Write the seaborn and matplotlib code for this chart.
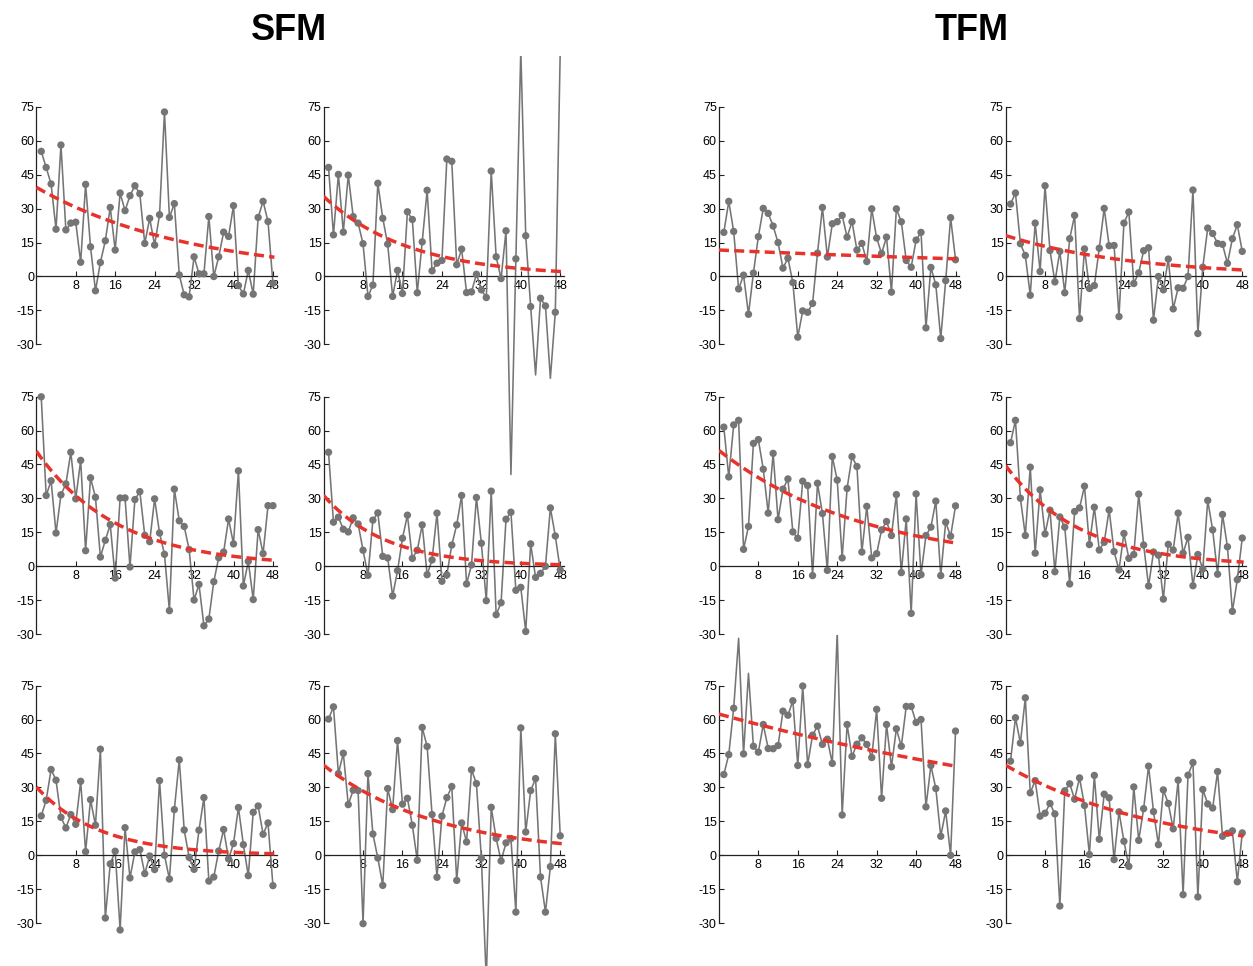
import numpy as np
import pandas as pd
import matplotlib
matplotlib.use("Agg")
import matplotlib.pyplot as plt
import seaborn as sns

plt.rcParams['font.family'] = ['Liberation Sans', 'DejaVu Sans']
plt.rcParams['axes.unicode_minus'] = False

# ---------------- data ----------------
x_values = list(range(1, 49))
y_ticks = [-30, -15, 0, 15, 30, 45, 60, 75]
x_ticks = [8, 16, 24, 32, 40, 48]
group_titles = ["SFM", "TFM"]

sfm_r1_c1 = [55.3, 48.2, 40.9, 20.9, 58.1, 20.6, 23.6, 24.0, 6.3, 40.7, 13.1, -6.3, 6.2, 15.8, 30.5, 11.7,
             36.9, 29.1, 35.7, 40.1, 36.6, 14.6, 25.7, 13.9, 27.3, 72.7, 26.1, 32.2, 0.7, -8.1, -9.0, 8.7,
             1.2, 1.2, 26.5, 0.0, 8.7, 19.6, 17.7, 31.3, -4.0, -7.7, 2.7, -7.8, 26.1, 33.2, 24.3, -3.0]
sfm_r1_c2 = [48.2, 18.4, 45.1, 19.6, 44.8, 26.5, 23.6, 14.5, -8.8, -3.8, 41.2, 25.7, 14.3, -8.8, 2.7, -7.5,
             28.6, 25.2, -7.2, 15.3, 38.1, 2.5, 5.9, 7.1, 51.9, 50.9, 5.2, 12.1, -7.1, -6.8, 1.0, -5.9,
             -9.3, 46.6, 8.7, -0.9, 20.2, -87.5, 7.8, 100.0, 18.0, -13.3, -43.5, -9.6, -13.0, -45.0, -15.8, 100.0]
tfm_r1_c1 = [19.5, 33.2, 19.9, -5.5, 0.6, -16.7, 1.5, 17.6, 30.1, 27.9, 22.3, 15.0, 3.7, 8.1, -2.7, -26.8,
             -15.2, -15.8, -11.9, 10.3, 30.5, 8.6, 23.3, 24.2, 27.0, 17.4, 24.2, 11.7, 14.6, 6.6, 29.9, 17.0,
             10.2, 17.4, -6.9, 29.9, 24.2, 7.1, 4.1, 16.1, 19.5, -22.7, 4.0, -3.7, -27.4, -1.8, 26.0, 7.4]
tfm_r1_c2 = [32.0, 36.9, 14.5, 9.3, -8.3, 23.6, 2.2, 40.1, 11.5, -2.4, 11.1, -7.2, 16.7, 27.0, -18.6, 12.2,
             -5.3, -4.0, 12.5, 30.1, 13.6, 13.7, -17.7, 23.6, 28.5, -3.1, 1.6, 11.4, 12.7, -19.3, 0.0, -5.9,
             7.7, -14.3, -5.0, -5.2, 0.0, 38.2, -25.2, 4.1, 21.4, 19.0, 14.6, 14.2, 5.8, 16.7, 22.9, 11.1]
sfm_r2_c1 = [74.9, 31.3, 37.8, 14.7, 31.6, 36.4, 50.4, 29.8, 46.8, 6.9, 39.1, 30.5, 4.1, 11.5, 18.4, -5.2,
             30.2, 30.2, -0.3, 29.5, 33.0, 13.7, 10.9, 29.8, 14.7, 5.3, -19.6, 34.1, 20.1, 17.6, 7.4, -14.9,
             -8.0, -26.3, -23.3, -6.8, 3.8, 6.3, 20.9, 9.9, 42.2, -8.7, 2.2, -14.7, 16.2, 5.6, 26.8, 26.8]
sfm_r2_c2 = [50.4, 19.5, 21.7, 16.4, 15.2, 21.4, 18.7, 7.1, -4.0, 20.4, 23.6, 4.4, 3.7, -13.1, -1.9, 12.4,
             22.6, 3.5, 7.1, 18.3, -3.7, 2.8, 23.5, -6.6, -3.8, 9.4, 18.3, 31.3, -7.8, 0.6, 30.4, 10.2,
             -15.2, 33.2, -21.4, -16.1, 20.8, 23.9, -10.6, -9.3, -28.8, 9.9, -4.9, -3.1, 0.0, 25.8, 13.4, -1.6]
tfm_r2_c1 = [61.5, 39.5, 62.5, 64.5, 7.5, 17.6, 54.3, 56.0, 42.9, 23.5, 49.9, 20.6, 34.1, 38.6, 15.2, 12.4,
             37.6, 35.7, -4.1, 36.7, 23.3, -1.8, 48.5, 38.1, 3.7, 34.4, 48.5, 44.1, 6.3, 26.5, 3.7, 5.6,
             16.1, 19.8, 13.6, 31.7, -2.8, 20.9, -20.8, 32.0, -3.7, 13.6, 17.3, 28.8, -4.1, 19.5, 13.3, 26.7]
tfm_r2_c2 = [54.6, 64.5, 30.1, 13.6, 43.8, 5.8, 33.8, 14.3, 24.8, -2.4, 21.8, 17.3, -7.8, 24.2, 25.8, 35.4,
             9.6, 26.1, 7.2, 10.6, 24.9, 6.5, -1.6, 14.5, 3.5, 5.2, 31.9, 9.4, -8.7, 6.3, 4.9, -14.5,
             9.7, 7.2, 23.5, 5.8, 12.8, -8.6, 5.2, -1.2, 29.1, 16.1, -3.5, 22.9, 8.6, -19.9, -5.9, 12.5]
sfm_r3_c1 = [17.4, 24.3, 37.9, 33.2, 16.8, 12.1, 18.0, 13.7, 32.7, 1.6, 24.6, 13.3, 46.9, -27.7, -3.8, 1.8,
             -33.0, 12.2, -10.0, 1.5, 2.5, -8.1, -0.3, -6.3, 33.0, 0.0, -10.5, 20.2, 42.2, 11.2, -0.9, -6.2,
             11.1, 25.5, -11.4, -9.6, 1.9, 11.4, -1.6, 5.2, 21.1, 4.7, -9.0, 19.0, 21.8, 9.3, 14.3, -13.4]
sfm_r3_c2 = [60.2, 65.6, 36.1, 45.1, 22.4, 28.8, 28.6, -30.2, 36.1, 9.4, -1.2, -13.3, 29.5, 20.2, 50.7, 22.6,
             25.2, 13.3, -2.2, 56.5, 48.1, 18.0, -9.7, 17.3, 25.5, 30.4, -11.1, 14.3, 5.9, 37.8, 31.7, -1.2,
             -55.0, 21.2, 7.5, -2.5, 5.5, 7.4, -25.1, 56.3, 10.3, 28.6, 33.9, -9.6, -25.1, -5.0, 53.7, 8.6]
tfm_r3_c1 = [35.7, 44.5, 65.0, 95.9, 44.8, 80.4, 48.2, 45.6, 57.8, 47.2, 47.1, 48.5, 63.7, 61.9, 68.3, 39.7,
             74.8, 40.0, 53.1, 57.1, 49.0, 51.3, 40.6, 98.5, 17.8, 57.8, 43.7, 49.1, 51.9, 49.0, 43.2, 64.5,
             25.2, 57.8, 39.1, 55.9, 48.2, 65.8, 65.8, 58.7, 60.0, 21.4, 39.7, 29.5, 8.4, 19.6, 0.0, 54.9]
tfm_r3_c2 = [41.6, 60.8, 49.6, 69.6, 27.6, 33.0, 17.3, 18.6, 22.9, 18.3, -22.4, 28.5, 31.6, 24.8, 34.2, 22.0,
             0.3, 35.3, 7.1, 27.0, 25.4, -1.9, 19.2, 6.2, -4.9, 30.2, 6.6, 20.6, 39.4, 19.3, 4.7, 28.9,
             22.9, 11.7, 33.2, -17.4, 35.4, 41.0, -18.4, 29.1, 22.7, 20.9, 37.0, 8.4, 9.7, 10.8, -11.7, 9.9]

# exponential fit curves: value at x=0 and at x=48
fit_start = {"sfm_r1_c1": 39.4, "sfm_r1_c2": 35.4, "tfm_r1_c1": 11.7, "tfm_r1_c2": 18.1,
             "sfm_r2_c1": 50.9, "sfm_r2_c2": 31.3, "tfm_r2_c1": 51.2, "tfm_r2_c2": 44.5,
             "sfm_r3_c1": 30.2, "sfm_r3_c2": 39.8, "tfm_r3_c1": 62.4, "tfm_r3_c2": 39.8}
fit_end = {"sfm_r1_c1": 8.6, "sfm_r1_c2": 2.2, "tfm_r1_c1": 7.8, "tfm_r1_c2": 2.9,
           "sfm_r2_c1": 2.7, "sfm_r2_c2": 0.7, "tfm_r2_c1": 10.3, "tfm_r2_c2": 1.9,
           "sfm_r3_c1": 0.7, "sfm_r3_c2": 5.2, "tfm_r3_c1": 39.4, "tfm_r3_c2": 8.6}

panels = [
    [("sfm_r1_c1", sfm_r1_c1), ("sfm_r1_c2", sfm_r1_c2), ("tfm_r1_c1", tfm_r1_c1), ("tfm_r1_c2", tfm_r1_c2)],
    [("sfm_r2_c1", sfm_r2_c1), ("sfm_r2_c2", sfm_r2_c2), ("tfm_r2_c1", tfm_r2_c1), ("tfm_r2_c2", tfm_r2_c2)],
    [("sfm_r3_c1", sfm_r3_c1), ("sfm_r3_c2", sfm_r3_c2), ("tfm_r3_c1", tfm_r3_c1), ("tfm_r3_c2", tfm_r3_c2)],
]

# ---------------- layout / style ----------------
W, H = 1253, 966
PX_X = 4.93      # pixels per x unit
PX_Y = 2.263     # pixels per y unit
col_x0 = [36.3, 323.6, 718.9, 1005.6]   # pixel of x = 0
row_y0 = [276.5, 566.3, 855.3]          # pixel of y = 0
Y_LO, Y_HI = -92, 97.5
X_HI = 48.8
MARK_LO, MARK_HI = -34, 77
GRAY = "#757575"
RED = "#e8332d"

fig = plt.figure(figsize=(W / 100, H / 100), dpi=100)

for r, row in enumerate(panels):
    for c, (name, vals) in enumerate(row):
        left = col_x0[c]
        width = X_HI * PX_X
        top = row_y0[r] - Y_HI * PX_Y
        bottom = row_y0[r] - Y_LO * PX_Y
        ax = fig.add_axes([left / W, 1 - bottom / H, width / W, (bottom - top) / H])
        ax.patch.set_visible(False)

        df = pd.DataFrame({"x": x_values, "y": vals})
        sns.lineplot(data=df, x="x", y="y", ax=ax, color=GRAY, lw=1.15,
                     sort=False, estimator=None, zorder=2)
        shown = df[(df["y"] >= MARK_LO) & (df["y"] <= MARK_HI)]
        sns.scatterplot(data=shown, x="x", y="y", ax=ax, color=GRAY, s=28,
                        edgecolor="none", linewidth=0, zorder=3)

        xs = np.linspace(0, 48.3, 200)
        a, b = fit_start[name], fit_end[name]
        fit = pd.DataFrame({"x": xs, "y": a * (b / a) ** (xs / 48.0)})
        sns.lineplot(data=fit, x="x", y="y", ax=ax, color=RED, lw=2.5,
                     linestyle=(0, (2.9, 1.5)), sort=False, estimator=None, zorder=4)

        ax.set_xlim(0, X_HI)
        ax.set_ylim(Y_LO, Y_HI)
        ax.set_xlabel("")
        ax.set_ylabel("")
        for s in ("top", "right"):
            ax.spines[s].set_visible(False)
        ax.spines["left"].set_position(("data", 0))
        ax.spines["left"].set_bounds(-30, 75)
        ax.spines["bottom"].set_position(("data", 0))
        ax.spines["bottom"].set_bounds(0, X_HI)
        for s in ("left", "bottom"):
            ax.spines[s].set_color("#222222")
            ax.spines[s].set_linewidth(0.9)
        ax.set_yticks(y_ticks)
        ax.set_xticks(x_ticks)
        ax.tick_params(axis="both", direction="in", length=3.5, width=0.8,
                       labelsize=9, color="#222222", labelcolor="black")
        ax.tick_params(axis="y", pad=1.5)
        ax.tick_params(axis="x", pad=2.5)

fig.text(289 / W, 1 - 30 / H, group_titles[0], ha="center", va="center",
         fontsize=26, fontweight="bold")
fig.text(972 / W, 1 - 30 / H, group_titles[1], ha="center", va="center",
         fontsize=26, fontweight="bold")

fig.savefig("out.png", dpi=100)
